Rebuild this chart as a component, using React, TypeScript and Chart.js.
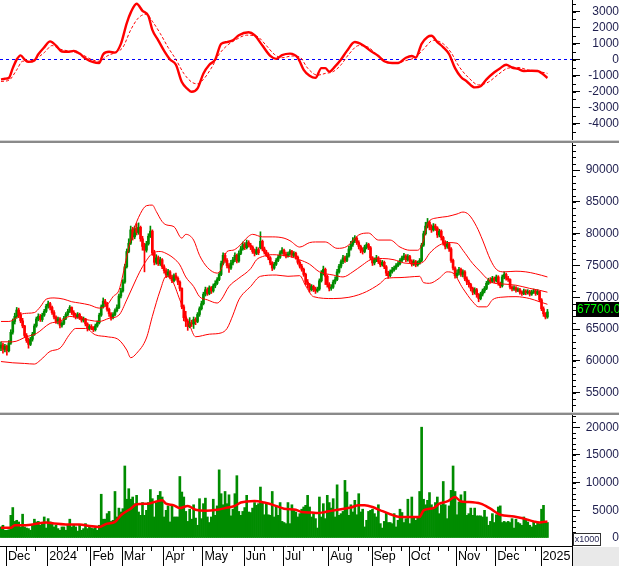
import React, { useEffect, useRef } from "react";
import { Chart, registerables } from "chart.js";

Chart.register(...registerables);

const FONT = "'Liberation Sans', Arial, Helvetica, sans-serif";
const LABEL = "#1e1e4e";
const UP = "#008c00";
const DOWN = "#ff0000";
const RED = "#ff0000";
const X_SLOTS = 291;

// ---------- axis labels ----------
const monthStarts = [3, 24, 46, 62, 83, 103, 124, 144, 167, 189, 208, 232, 252, 275];
const monthLabels = ["Dec", "2024", "Feb", "Mar", "Apr", "May", "Jun", "Jul", "Aug", "Sep", "Oct", "Nov", "Dec", "2025"];
const macdTicks = [-4000, -3000, -2000, -1000, 0, 1000, 2000, 3000];
const priceTicks = [55000, 60000, 65000, 70000, 75000, 80000, 85000, 90000];
const volumeTicks = [0, 5000, 10000, 15000, 20000];

// ---------- prices (thousand VND) ----------
const opens = [62.0, 62.5,61.8,62.3,61.6,62.8,64.5,66.2,67.0,68.0,
67.2,66.3,65.5,64.0,63.2,62.6,63.4,64.2,65.5,66.6,
67.0,66.5,67.2,67.8,68.6,69.0,68.4,67.6,66.9,66.2,
66.6,65.6,65.9,66.7,67.3,67.8,68.4,67.6,67.2,66.9,
67.3,66.8,66.4,66.6,65.8,65.1,65.4,65.2,64.9,65.5,
66.0,67.2,68.5,69.4,69.0,68.1,67.4,66.8,67.3,67.9,
68.4,70.2,71.0,72.4,74.8,77.2,78.5,80.6,79.5,80.8,
80.2,81.0,79.2,78.0,77.4,78.4,79.6,80.4,77.0,75.5,
76.2,75.3,75.9,74.8,74.2,73.5,74.0,73.2,72.6,73.4,
73.0,72.4,71.4,68.5,66.8,66.2,65.4,66.0,65.8,66.5,
66.2,67.3,68.2,69.0,70.5,71.2,70.6,71.5,71.0,71.8,
72.2,72.8,73.6,75.3,76.6,75.8,75.0,74.6,75.4,75.9,
76.6,75.7,76.9,77.6,78.3,77.8,78.6,78.2,77.9,77.2,
76.9,77.5,77.8,78.8,77.6,77.1,76.7,76.2,75.4,74.6,
75.2,75.8,76.3,77.0,77.4,76.8,76.5,76.8,77.2,76.6,
76.9,76.3,75.5,74.9,74.4,73.6,72.4,72.0,71.2,71.7,
71.3,71.0,71.3,72.6,73.8,74.4,73.3,72.0,71.4,71.6,
72.4,72.8,74.0,74.9,75.6,76.2,75.8,76.5,77.6,78.3,
78.9,79.3,78.6,78.0,77.4,77.2,77.9,78.3,77.8,76.2,
75.4,75.9,76.2,75.6,75.1,75.5,74.8,73.8,73.4,74.0,
74.3,74.6,75.0,75.3,75.8,76.2,76.5,75.9,76.4,75.7,
75.2,75.6,75.1,75.4,75.8,78.2,80.0,81.2,81.8,81.0,
80.6,81.2,80.9,79.8,80.4,79.4,78.6,78.0,78.4,77.6,
75.8,74.6,73.4,73.8,74.4,73.6,74.0,72.9,72.4,72.0,
71.4,70.8,71.2,70.4,69.8,70.5,71.0,71.4,72.2,72.7,
72.5,73.0,72.6,73.2,72.2,71.8,73.2,73.6,73.0,72.8,
71.6,71.3,71.5,71.1,71.2,70.8,70.6,71.0,70.7,70.9,
70.5,70.8,71.0,70.6,70.9,69.6,68.2,67.4,66.9];

const highs = [63.0,62.8,62.6,62.5,63.2,64.9,66.6,67.5,68.4,68.3,
67.6,66.7,65.6,64.3,63.6,63.7,64.5,65.8,66.9,67.4,
67.3,67.5,68.1,68.9,69.4,69.2,68.6,67.9,67.1,66.9,
66.8,66.2,67.0,67.6,68.1,68.7,68.5,67.9,67.5,67.6,
67.5,67.0,66.9,66.7,66.0,65.7,65.7,65.4,65.8,66.3,
67.5,68.8,69.9,69.7,69.2,68.3,67.6,67.6,68.2,68.8,
70.5,71.4,72.8,75.2,77.6,79.2,81.2,81.0,81.2,81.6,
81.7,81.2,79.6,78.5,78.8,80.0,81.2,80.6,77.4,76.7,
76.5,76.3,76.1,75.1,74.5,74.4,74.2,73.5,73.7,73.8,
73.2,72.6,71.5,68.8,67.8,66.5,66.8,66.4,66.9,66.8,
67.6,68.5,69.4,70.8,71.6,71.5,71.8,71.7,72.1,72.6,
73.1,73.9,75.7,77.0,76.9,76.1,75.3,75.8,76.3,77.0,
76.8,77.3,78.0,78.7,78.6,79.0,78.9,78.5,78.1,77.6,
77.9,77.8,80.3,79.0,77.9,77.4,77.0,76.4,75.6,75.5,
76.1,76.6,77.3,77.8,77.6,77.1,77.1,77.5,77.4,77.2,
77.1,76.5,75.8,75.2,74.6,73.8,72.8,72.2,72.0,71.9,
71.6,71.6,72.9,74.2,74.9,74.6,73.5,72.3,72.0,72.7,
73.2,74.4,75.2,75.9,76.6,76.5,76.9,78.0,78.8,79.4,
79.7,79.5,78.9,78.2,77.8,78.2,78.6,78.5,78.0,76.4,
76.2,76.6,76.4,75.9,75.8,75.7,75.0,74.1,74.3,74.7,
74.9,75.3,75.6,76.1,76.5,76.9,76.7,76.7,76.6,75.9,
75.9,75.8,75.7,76.1,78.5,80.4,81.8,82.4,82.0,81.4,
81.6,81.5,81.1,80.7,80.6,79.6,78.9,78.8,78.6,77.8,
76.0,74.8,74.3,74.7,74.6,74.3,74.2,73.2,72.7,72.2,
71.6,71.5,71.4,70.6,70.8,71.3,71.7,72.5,73.0,73.1,
73.3,73.2,73.5,73.4,72.4,73.5,74.0,73.8,73.3,72.9,
71.8,71.8,71.7,71.5,71.4,71.0,71.3,71.2,71.2,71.1,
71.1,71.3,71.2,71.2,71.0,69.8,68.5,67.6,68.1];

const lows = [61.6,61.2,61.4,60.9,61.4,62.6,64.2,65.8,66.7,66.8,
66.0,65.2,63.7,62.9,62.0,62.4,63.1,64.0,65.3,66.3,
66.2,66.2,67.0,67.6,68.3,68.0,67.3,66.6,65.9,65.8,
65.2,65.3,65.7,66.5,67.1,67.6,67.3,66.9,66.6,66.7,
66.5,66.1,66.1,65.5,64.7,64.9,64.9,64.6,64.7,65.3,
65.8,67.0,68.3,68.6,67.8,67.0,66.4,66.6,67.1,67.7,
68.2,69.9,70.8,72.2,74.6,77.0,78.3,79.0,79.2,79.8,
79.9,78.8,77.4,74.0,77.1,78.2,79.4,76.6,75.1,75.2,
75.0,75.0,74.5,73.8,73.1,73.2,72.9,72.3,72.4,72.7,
72.0,71.0,68.2,66.3,65.4,64.8,65.2,65.4,65.1,65.7,
66.0,67.0,68.0,68.8,70.2,70.3,70.4,70.6,70.8,71.5,
72.0,72.6,73.4,75.1,75.5,74.6,73.9,74.4,75.1,75.6,
75.4,75.5,76.7,77.4,77.5,77.6,77.9,77.5,76.9,76.5,
76.7,76.7,77.6,77.3,76.8,76.4,75.9,75.1,74.2,74.4,
75.0,75.6,76.1,76.8,76.5,76.2,76.3,76.6,76.3,76.4,
76.0,75.2,74.6,74.1,73.3,72.0,71.5,70.8,71.0,70.9,
70.6,70.8,71.1,72.4,73.5,72.0,71.6,71.0,71.1,71.4,
72.1,72.6,73.8,74.6,75.3,75.5,75.6,76.3,77.4,78.0,
78.6,78.3,77.6,77.0,76.8,77.0,77.6,77.5,75.9,75.0,
75.1,75.6,75.3,74.8,74.9,74.5,73.4,73.0,73.2,73.8,
74.1,74.4,74.8,75.1,75.6,75.9,75.6,75.7,75.4,74.9,
75.0,74.8,74.9,75.2,75.6,78.0,79.8,80.9,80.6,80.2,
80.4,80.5,79.4,79.5,79.0,78.2,77.6,77.7,77.2,75.5,
74.3,73.0,73.1,73.5,73.3,73.2,72.6,72.0,71.6,71.0,
70.4,70.5,70.0,69.3,69.6,70.2,70.7,71.2,72.0,72.2,
72.3,72.3,72.4,71.9,71.5,71.6,72.9,72.7,72.5,71.3,
71.0,71.1,70.8,70.9,70.5,70.3,70.4,70.4,70.5,70.2,
70.3,70.6,70.3,70.4,69.3,67.9,67.0,66.6,66.7];

const closes = [62.5,61.8,62.3,61.6,62.8,64.5,66.2,67.0,68.0,67.2,
66.3,65.5,64.0,63.2,62.6,63.4,64.2,65.5,66.6,67.0,
66.5,67.2,67.8,68.6,69.0,68.4,67.6,66.9,66.2,66.6,
65.6,65.9,66.7,67.3,67.8,68.4,67.6,67.2,66.9,67.3,
66.8,66.4,66.6,65.8,65.1,65.4,65.2,64.9,65.5,66.0,
67.2,68.5,69.4,69.0,68.1,67.4,66.8,67.3,67.9,68.4,
70.2,71.0,72.4,74.8,77.2,78.5,80.6,79.5,80.8,80.2,
81.0,79.2,78.0,77.4,78.4,79.6,80.4,77.0,75.5,76.2,
75.3,75.9,74.8,74.2,73.5,74.0,73.2,72.6,73.4,73.0,
72.4,71.4,68.5,66.8,66.2,65.4,66.0,65.8,66.5,66.2,
67.3,68.2,69.0,70.5,71.2,70.6,71.5,71.0,71.8,72.2,
72.8,73.6,75.3,76.6,75.8,75.0,74.6,75.4,75.9,76.6,
75.7,76.9,77.6,78.3,77.8,78.6,78.2,77.9,77.2,76.9,
77.5,77.0,78.8,77.6,77.1,76.7,76.2,75.4,74.6,75.2,
75.8,76.3,77.0,77.4,76.8,76.5,76.8,77.2,76.6,76.9,
76.3,75.5,74.9,74.4,73.6,72.4,72.0,71.2,71.7,71.3,
71.0,71.3,72.6,73.8,74.4,73.3,72.0,71.4,71.6,72.4,
72.8,74.0,74.9,75.6,76.2,75.8,76.5,77.6,78.3,78.9,
79.3,78.6,78.0,77.4,77.2,77.9,78.3,77.8,76.2,75.4,
75.9,76.2,75.6,75.1,75.5,74.8,73.8,73.4,74.0,74.3,
74.6,75.0,75.3,75.8,76.2,76.5,75.9,76.4,75.7,75.2,
75.6,75.1,75.4,75.8,78.2,80.0,81.2,81.8,81.0,80.6,
81.2,80.9,79.8,80.4,79.4,78.6,78.0,78.4,77.6,75.8,
74.6,73.4,73.8,74.4,73.6,74.0,72.9,72.4,72.0,71.4,
70.8,71.2,70.4,69.8,70.5,71.0,71.4,72.2,72.7,72.5,
73.0,72.6,73.2,72.2,71.8,73.2,73.6,73.0,72.8,71.6,
71.3,71.5,71.1,71.2,70.8,70.6,71.0,70.7,70.9,70.5,
70.8,71.0,70.6,70.9,69.6,68.2,67.4,66.9,67.7];

// ---------- volume (x1000 axis units, thousands) ----------
const volumes = [2.0,2.3,1.4,1.4,1.5,4.1,5.5,3.0,3.2,2.9,
2.0,4.3,2.0,1.8,1.7,1.4,2.3,3.4,2.9,3.0,
2.3,2.6,3.8,1.8,3.5,2.9,2.6,2.0,2.3,1.7,
1.4,2.0,2.0,1.4,2.3,3.4,2.0,2.3,2.0,1.25,
2.3,1.4,1.7,2.6,1.7,2.0,1.8,1.7,1.8,1.4,
2.3,7.9,3.4,3.4,4.4,4.8,3.0,3.2,8.4,3.8,
5.4,4.7,5.3,13.0,7.0,8.9,7.0,7.4,6.2,7.7,
4.7,4.1,6.4,4.1,5.0,6.4,8.75,7.1,3.8,6.4,
7.7,8.4,7.4,3.8,5.0,5.8,2.9,5.8,3.8,3.8,
3.8,11.1,8.3,7.4,4.8,3.0,5.2,3.4,6.0,3.6,
2.3,7.1,3.5,6.2,7.2,3.8,2.8,3.8,7.0,4.1,
5.8,12.3,8.0,6.0,8.4,6.2,7.8,4.0,5.2,8.0,
11.25,4.8,4.1,4.8,5.5,7.7,4.7,4.6,5.4,6.4,
5.9,6.2,9.2,6.4,4.2,6.2,4.2,4.1,8.4,3.8,
5.8,4.1,6.4,3.0,2.8,2.6,6.4,2.6,6.0,5.2,
4.7,3.8,4.4,5.2,5.6,5.9,7.7,5.6,3.8,4.4,
3.5,1.8,7.4,3.8,6.2,3.5,7.7,6.4,5.4,7.1,
3.8,9.6,4.1,4.4,4.8,10.4,8.3,4.1,6.0,4.7,
6.8,4.2,8.0,4.7,5.2,2.0,3.2,4.8,5.0,5.2,
4.4,3.8,6.0,2.6,1.8,3.0,4.6,2.8,2.8,2.6,
4.4,2.0,3.2,5.2,4.6,2.8,3.5,7.0,2.6,7.4,
3.8,3.2,3.8,8.4,20.0,7.0,6.0,6.8,8.2,6.0,
5.2,6.4,7.4,4.4,6.0,10.2,6.0,3.5,5.8,8.6,
13.0,8.4,4.2,6.5,7.8,6.4,8.4,4.1,4.4,5.4,
4.1,5.4,4.0,4.0,4.0,3.8,5.0,3.8,2.3,3.0,
4.4,2.8,4.2,5.6,5.8,2.8,3.0,2.8,3.0,2.8,
3.5,1.8,3.4,2.8,2.6,2.3,3.8,3.4,2.9,2.3,
2.0,2.9,2.3,2.8,2.6,5.2,5.9,3.0,2.8];

// ---------- indicators: [dayIndex, value] ----------
const bbUpper = [[0,66.2],[4,66.2],[7,66.6],[10,67.3],[14,67.5],[17,67.6],[20,68.5],[23,69.7],[27,69.9],[32,69.7],[36,69.3],[40,69.1],[45,68.8],[50,68.3],[54,68.8],[57,70.1],[60,71.1],[62,73.5],[64,76.5],[67,80.1],[71,83.2],[74,84.4],[77,84.5],[79,83.5],[82,81.9],[84,81.4],[88,81.1],[92,79.3],[94,79.9],[98,79.0],[101,76.6],[105,74.7],[110,73.8],[112,74.4],[115,77.2],[118,77.4],[121,78.0],[126,79.6],[128,79.9],[133,79.5],[138,79.5],[144,79.3],[147,78.9],[152,77.9],[157,78.6],[160,78.7],[165,78.7],[171,77.7],[176,78.0],[182,79.8],[187,80.1],[192,79.0],[198,79.0],[203,77.9],[208,77.4],[212,77.4],[215,79.0],[217,81.6],[222,82.5],[227,82.7],[232,83.1],[235,83.4],[238,83.0],[242,81.1],[245,79.0],[249,75.9],[252,74.4],[256,74.0],[262,74.1],[267,74.0],[272,73.7],[278,73.2]];
const bbMiddle = [[0,63.0],[6,63.0],[13,63.8],[18,64.3],[25,65.9],[30,66.2],[35,67.0],[40,66.7],[45,66.4],[50,66.2],[55,66.7],[60,67.2],[64,69.6],[69,73.0],[72,74.8],[77,76.9],[81,77.2],[84,76.9],[88,76.1],[91,75.1],[94,73.2],[98,71.7],[101,70.1],[105,69.6],[110,69.1],[112,69.6],[116,71.7],[121,73.0],[127,74.5],[130,75.9],[133,76.4],[138,76.7],[147,76.4],[152,75.9],[157,75.2],[162,74.0],[169,73.5],[174,73.2],[179,74.0],[184,75.1],[188,75.9],[194,76.1],[200,75.9],[205,75.4],[211,75.3],[215,75.6],[218,76.9],[223,78.2],[228,78.6],[232,78.5],[235,77.4],[240,75.3],[244,74.0],[247,73.0],[250,72.3],[255,72.1],[262,71.9],[269,71.4],[274,71.1],[278,70.8]];
const bbLower = [[0,59.9],[6,59.7],[12,59.6],[17,59.5],[20,60.1],[25,61.5],[30,62.0],[35,64.2],[38,65.1],[43,65.1],[48,64.1],[54,63.8],[60,63.3],[64,61.7],[66,60.5],[69,61.2],[74,63.6],[77,67.0],[81,71.1],[84,73.3],[87,72.7],[91,69.6],[96,65.6],[99,63.8],[106,64.2],[112,64.4],[115,65.1],[118,67.2],[121,69.6],[127,71.7],[132,73.3],[140,73.5],[146,73.3],[152,73.4],[155,71.8],[159,70.1],[169,69.8],[177,70.0],[182,70.4],[186,70.9],[189,71.4],[193,72.2],[196,73.0],[203,73.1],[208,73.2],[213,73.3],[215,72.3],[218,72.2],[223,73.0],[227,74.0],[230,73.8],[235,71.4],[240,69.3],[243,68.5],[247,68.5],[250,69.6],[254,70.0],[262,70.1],[269,69.8],[274,69.3],[278,68.9]];
const volumeMA = [[0,1.85],[5,1.85],[7,2.3],[11,2.3],[16,2.45],[23,2.8],[27,2.6],[33,2.45],[40,2.45],[45,2.15],[50,2.0],[54,2.6],[58,2.9],[61,4.1],[66,5.3],[69,6.1],[75,6.2],[79,6.6],[82,6.8],[84,6.2],[88,5.9],[91,5.4],[95,5.8],[99,5.1],[104,4.9],[110,5.1],[114,5.4],[119,5.8],[122,6.4],[129,6.7],[134,6.4],[139,5.9],[144,5.3],[150,5.1],[153,4.7],[158,4.6],[161,4.5],[165,4.7],[168,4.9],[173,5.2],[178,5.5],[182,5.9],[185,5.9],[189,5.6],[193,5.0],[198,4.3],[203,3.8],[208,3.8],[213,3.8],[215,5.0],[220,5.4],[223,6.2],[227,6.6],[231,7.4],[234,6.6],[238,6.5],[244,6.2],[249,5.3],[254,4.2],[261,3.9],[266,3.5],[271,3.0],[274,2.8],[278,3.0]];
const macdLine = [[0,-1240],[2,-1200],[4,-1150],[6,-540],[8,0],[10,260],[12,0],[14,-150],[17,-65],[19,330],[22,760],[25,1130],[28,870],[31,500],[34,480],[37,540],[40,370],[43,65],[47,-170],[50,-220],[52,330],[55,480],[58,430],[61,980],[64,2280],[66,2930],[69,3480],[72,3040],[75,2720],[77,1850],[80,1200],[83,540],[86,0],[89,-330],[92,-1410],[95,-1850],[97,-2020],[100,-1800],[103,-870],[106,-330],[109,0],[112,980],[115,1090],[118,1200],[121,1520],[126,1700],[129,1520],[133,870],[137,220],[140,40],[143,280],[147,370],[151,110],[154,-650],[157,-1020],[160,-1150],[163,-540],[165,-540],[167,-760],[170,-430],[173,0],[176,540],[180,1090],[184,910],[188,540],[192,220],[195,-110],[199,-220],[202,-220],[206,110],[209,220],[211,110],[214,980],[217,1410],[219,1480],[222,1090],[225,760],[228,330],[231,-540],[234,-1090],[237,-1370],[241,-1740],[244,-1670],[247,-1240],[251,-800],[254,-540],[257,-330],[260,-500],[263,-590],[266,-720],[270,-700],[273,-720],[278,-1150]];
const signalLine = [[0,-1370],[4,-1300],[8,-650],[11,-110],[14,-110],[18,65],[22,430],[26,870],[30,650],[34,540],[38,430],[42,260],[46,0],[50,-110],[54,220],[58,430],[62,760],[66,1850],[70,2610],[74,2830],[77,2390],[81,1630],[85,760],[89,0],[93,-870],[97,-1410],[100,-1520],[103,-1240],[107,-540],[111,330],[115,870],[119,1200],[125,1520],[130,1460],[135,870],[139,330],[143,110],[148,220],[152,150],[156,-540],[161,-980],[165,-870],[169,-760],[173,-330],[177,330],[182,870],[187,760],[191,330],[196,-110],[201,-220],[206,-65],[211,150],[215,650],[220,1200],[225,980],[229,430],[233,-430],[238,-1150],[243,-1590],[248,-1410],[253,-930],[258,-540],[263,-500],[268,-650],[274,-760],[278,-870]];

// ---------- helpers ----------
const toPoints = (arr: number[][], k = 1) => arr.map(([x, y]) => ({ x, y: y * k }));
const range = (a: number, b: number, step: number) => {
  const out: number[] = [];
  for (let v = a; v <= b + 1e-9; v += step) out.push(v);
  return out;
};
const candleColors = closes.map((c, i) => (c >= opens[i] ? UP : DOWN));

const xHidden: any = {
  type: "linear",
  min: -0.5,
  max: X_SLOTS - 0.5,
  display: false,
  offset: false,
  grid: { offset: false },
};

function yAxis(min: number, max: number, ticks: number[]): any {
  return {
    type: "linear",
    position: "right",
    min,
    max,
    afterBuildTicks: (s: any) => {
      s.ticks = ticks.map((v) => ({ value: v }));
    },
    afterFit: (s: any) => {
      s.width = 47;
      s.paddingTop = 0;
      s.paddingBottom = 0;
    },
    ticks: {
      font: { family: FONT, size: 12 },
      color: LABEL,
      crossAlign: "far",
      padding: 4,
      autoSkip: false,
      callback: (v: any) => String(v),
    },
    grid: { drawOnChartArea: false, drawTicks: true, tickLength: 8, tickColor: "#000", tickWidth: 1 },
    border: { display: true, color: "#000", width: 1 },
  };
}

function minorTicks(values: number[]) {
  return {
    id: "minorTicks",
    afterDraw(chart: any) {
      const s = chart.scales.y;
      const ctx = chart.ctx;
      ctx.save();
      ctx.strokeStyle = "#000";
      ctx.lineWidth = 1;
      ctx.beginPath();
      for (const v of values) {
        const y = Math.round(s.getPixelForValue(v)) + 0.5;
        if (y < 0 || y > chart.height) continue;
        ctx.moveTo(s.left, y);
        ctx.lineTo(s.left + 4, y);
      }
      ctx.stroke();
      ctx.restore();
    },
  };
}

function baseOptions(x: any, y: any): any {
  return {
    responsive: false,
    maintainAspectRatio: false,
    animation: false,
    events: [],
    layout: { padding: 0, autoPadding: false },
    plugins: { legend: { display: false }, tooltip: { enabled: false } },
    scales: { x, y },
  };
}

const lineDs = (data: any[], color: string, width: number, extra: any = {}) => ({
  type: "line",
  data,
  borderColor: color,
  borderWidth: width,
  pointRadius: 0,
  pointHoverRadius: 0,
  cubicInterpolationMode: "monotone",
  fill: false,
  ...extra,
});

const priceBadge = {
  id: "priceBadge",
  afterDraw(chart: any) {
    const s = chart.scales.y;
    const ctx = chart.ctx;
    const last = closes[closes.length - 1] * 1000;
    const y = Math.round(s.getPixelForValue(last));
    ctx.save();
    ctx.fillStyle = "#000";
    ctx.fillRect(s.left + 4, y - 10, chart.width - s.left - 4, 15);
    ctx.fillStyle = "#00ff00";
    ctx.font = `12px ${FONT}`;
    ctx.textBaseline = "middle";
    ctx.textAlign = "left";
    ctx.fillText(last.toFixed(2), s.left + 5, y - 2);
    ctx.restore();
  },
};

const bottomAxis = {
  id: "bottomAxis",
  afterDraw(chart: any) {
    const { ctx, chartArea } = chart;
    const x = chart.scales.x;
    const top = chartArea.bottom;
    const h = chart.height;
    const right = chartArea.right;
    ctx.save();
    ctx.fillStyle = "#e9e9e9";
    ctx.fillRect(right + 1, top + 1, chart.width - right - 1, h - top - 1);
    ctx.strokeStyle = "#000";
    ctx.lineWidth = 1;
    ctx.beginPath();
    ctx.moveTo(right + 0.5, top);
    ctx.lineTo(right + 0.5, h);
    monthStarts.forEach((s, k) => {
      const px = Math.round(x.getPixelForValue(s - 0.5)) + 0.5;
      ctx.moveTo(px, top);
      ctx.lineTo(px, h);
      const end = k + 1 < monthStarts.length ? monthStarts[k + 1] : closes.length;
      for (let w = s + 5; w < end - 1; w += 5) {
        const wx = Math.round(x.getPixelForValue(w - 0.5)) + 0.5;
        ctx.moveTo(wx, top);
        ctx.lineTo(wx, top + 5);
      }
    });
    ctx.stroke();
    // x1000 box
    const bx = right + 1;
    const by = top - 13;
    ctx.fillStyle = "#fff";
    ctx.fillRect(bx, by, 28, 13);
    ctx.strokeStyle = "#333";
    ctx.strokeRect(bx + 0.5, by + 0.5, 27, 12);
    ctx.fillStyle = LABEL;
    ctx.font = `9px ${FONT}`;
    ctx.textAlign = "center";
    ctx.textBaseline = "middle";
    ctx.fillText("x1000", bx + 14, by + 7);
    ctx.restore();
  },
};

const sepStyle = (top: number): any => ({
  position: "absolute",
  left: 0,
  top,
  width: 619,
  height: 3,
  background: "linear-gradient(#d4d4d4 0px, #d4d4d4 1px, #8a8a8a 1px, #8a8a8a 3px)",
});

export default function App() {
  const macdRef = useRef<HTMLCanvasElement>(null);
  const priceRef = useRef<HTMLCanvasElement>(null);
  const volRef = useRef<HTMLCanvasElement>(null);

  useEffect(() => {
    const charts: any[] = [];

    // MACD panel
    charts.push(
      new Chart(macdRef.current as any, {
        type: "line",
        data: {
          datasets: [
            lineDs(toPoints(macdLine), RED, 2.4, { order: 0 }),
            lineDs(toPoints(signalLine), RED, 1, { order: 1, borderDash: [3, 2] }),
            lineDs([{ x: -0.5, y: 0 }, { x: X_SLOTS - 0.5, y: 0 }], "#0000ff", 1, {
              order: 2,
              borderDash: [3, 3],
              cubicInterpolationMode: "default",
            }),
          ] as any,
        },
        options: baseOptions(xHidden, yAxis(-5031.25, 3718.75, macdTicks)),
        plugins: [minorTicks(range(-5000, 3500, 500))],
      } as any)
    );

    // Price panel
    charts.push(
      new Chart(priceRef.current as any, {
        type: "bar",
        data: {
          datasets: [
            lineDs(toPoints(bbUpper, 1000), RED, 1, { order: 0 }),
            lineDs(toPoints(bbMiddle, 1000), RED, 1, { order: 0 }),
            lineDs(toPoints(bbLower, 1000), RED, 1, { order: 0 }),
            {
              type: "bar",
              data: closes.map((c, i) => ({ x: i, y: [opens[i] * 1000, c * 1000] })),
              backgroundColor: candleColors,
              borderWidth: 0,
              barThickness: 2,
              grouped: false,
              order: 1,
            },
            {
              type: "bar",
              data: highs.map((hv, i) => ({ x: i, y: [lows[i] * 1000, hv * 1000] })),
              backgroundColor: candleColors,
              borderWidth: 0,
              barThickness: 1,
              grouped: false,
              order: 2,
            },
          ] as any,
        },
        options: baseOptions(xHidden, yAxis(51965, 94261, priceTicks)),
        plugins: [minorTicks(range(52000, 94000, 1000)), priceBadge],
      } as any)
    );

    // Volume panel with the time axis
    const xBottom: any = {
      type: "linear",
      min: -0.5,
      max: X_SLOTS - 0.5,
      offset: false,
      display: true,
      position: "bottom",
      afterBuildTicks: (s: any) => {
        s.ticks = monthStarts.map((m) => ({ value: m - 0.5 }));
      },
      afterFit: (s: any) => {
        s.height = 20;
        s.paddingLeft = 0;
        s.paddingRight = 0;
      },
      ticks: {
        autoSkip: false,
        maxRotation: 0,
        minRotation: 0,
        align: "start",
        labelOffset: 2,
        padding: 3,
        font: { family: FONT, size: 12.5 },
        color: "#000",
        callback: (_v: any, idx: number) => monthLabels[idx],
      },
      grid: { display: false, drawTicks: false, offset: false },
      border: { display: true, color: "#000", width: 1 },
    };
    charts.push(
      new Chart(volRef.current as any, {
        type: "bar",
        data: {
          datasets: [
            lineDs(toPoints(volumeMA, 1000), RED, 2.5, { order: 0 }),
            {
              type: "bar",
              data: volumes.map((v, i) => ({ x: i, y: v * 1000 })),
              backgroundColor: UP,
              borderWidth: 0,
              barThickness: 2,
              grouped: false,
              order: 1,
            },
          ] as any,
        },
        options: baseOptions(xBottom, yAxis(-1440, 22200, volumeTicks)),
        plugins: [minorTicks(range(-1000, 22000, 1000)), bottomAxis],
      } as any)
    );

    return () => charts.forEach((c) => c.destroy());
  }, []);

  return (
    <div
      style={{
        position: "absolute",
        left: 0,
        top: 0,
        width: 619,
        height: 566,
        background: "#fff",
        overflow: "hidden",
      }}
    >
      <canvas ref={macdRef} width={619} height={140} style={{ position: "absolute", left: 0, top: 0 }} />
      <div style={sepStyle(140)} />
      <canvas ref={priceRef} width={619} height={269} style={{ position: "absolute", left: 0, top: 143 }} />
      <div style={sepStyle(412)} />
      <canvas ref={volRef} width={619} height={151} style={{ position: "absolute", left: 0, top: 415 }} />
    </div>
  );
}
